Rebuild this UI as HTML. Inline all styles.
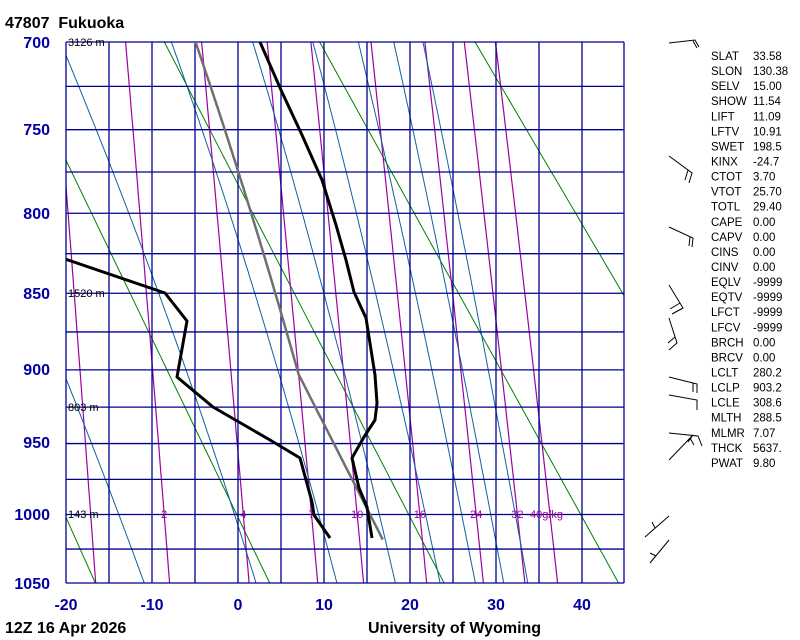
<!DOCTYPE html>
<html><head><meta charset="utf-8"><style>
html,body{margin:0;padding:0;background:#fff;}
svg{display:block;font-family:"Liberation Sans",sans-serif;}
</style></head><body>
<svg id="s" width="800" height="640" viewBox="0 0 800 640" xmlns="http://www.w3.org/2000/svg">
<defs><clipPath id="c"><rect x="66" y="42" width="558" height="541"/></clipPath></defs>
<rect width="800" height="640" fill="#fff"/>
<g id="bg" clip-path="url(#c)" fill="none"></g>
<g id="grid" stroke="#000090" stroke-width="1.3" fill="none"></g>
<g font-size="11" fill="#000">
<text x="68" y="46">3126 m</text>
<text x="68" y="297">1520 m</text>
<text x="68" y="411">803 m</text>
<text x="68" y="518">143 m</text>
</g>
<g id="mr" font-size="11" fill="#a000a0"></g>
<g id="snd" clip-path="url(#c)" fill="none" stroke-linejoin="round"></g>
<g font-size="16" font-weight="bold" fill="#0000a0" text-anchor="end">
<text x="50" y="48">700</text><text x="50" y="135">750</text><text x="50" y="219">800</text>
<text x="50" y="299">850</text><text x="50" y="375">900</text><text x="50" y="448">950</text>
<text x="50" y="520">1000</text><text x="50" y="589">1050</text>
</g>
<g font-size="16" font-weight="bold" fill="#0000a0" text-anchor="middle">
<text x="66" y="610">-20</text><text x="152" y="610">-10</text><text x="238" y="610">0</text>
<text x="324" y="610">10</text><text x="410" y="610">20</text><text x="496" y="610">30</text><text x="582" y="610">40</text>
</g>
<g font-size="16" font-weight="bold" fill="#000">
<text x="5" y="28">47807&#160;&#160;Fukuoka</text>
<text x="5" y="633">12Z 16 Apr 2026</text>
<text x="368" y="633">University of Wyoming</text>
</g>
<g id="tbl" font-size="11.5" fill="#000"></g>
<g stroke="#000" stroke-width="1" fill="none">
<path d="M669 43 L695 40 L699 47 M693 41 L697 48"/>
<path d="M669 156 L692 173 L689 183 M688 170 L685 180"/>
<path d="M669 227 L693 238 L692 247 M690 237 L689 246"/>
<path d="M669 285 L683 308 L672 314 M680 303 L670 309"/>
<path d="M669 318 L677 343 L669 350 M675 337 L668 343"/>
<path d="M669 377 L697 384 L697 393 M693 383 L693 392"/>
<path d="M669 395 L697 400 L697 410"/>
<path d="M669 433 L698 436 L702 446"/>
<path d="M669 460 L693 435 L688 442 M690 438 L694 445"/>
<path d="M645 537 L669 516 M655 528 L652 522"/>
<path d="M650 563 L669 540 M656 556 L650 553"/>
</g>
</svg>
<script>
(function(){
var NS="http://www.w3.org/2000/svg";
var k=0.286,P0=Math.pow(700,k),P1=Math.pow(1050,k);
function Y(p){return 42+(Math.pow(p,k)-P0)/(P1-P0)*541;}
function X(t){return 238+8.6*t;}
function el(g,tag,a){var e=document.createElementNS(NS,tag);for(var n in a)e.setAttribute(n,a[n]);document.getElementById(g).appendChild(e);return e;}
function pl(g,pts,col,w){el(g,"polyline",{points:pts.map(function(q){return q[0].toFixed(1)+","+q[1].toFixed(1)}).join(" "),stroke:col,"stroke-width":w,fill:"none"});}
for(var th=213;th<=413;th+=20){var pts=[];for(var p=700;p<=1050;p+=10){pts.push([X(th*Math.pow(p/1000,k)-273.15),Y(p)]);}pl("bg",pts,"#008000",1);}
function tdw(w,p){var e=w*p/(622+w);var l=Math.log(e/6.112);return 243.5*l/(17.67-l);}
var ws=[1,2,4,7,10,16,24,32,40];
ws.forEach(function(w){var pts=[];for(var p=700;p<=1050;p+=10)pts.push([X(tdw(w,p)),Y(p)]);pl("bg",pts,"#a000a0",1.2);});
function es(t){return 6.112*Math.exp(17.67*t/(t+243.5));}
function moist(T0c,p0,p1){var pts=[];var T=T0c+273.15,p=p0,dp=p1<p0?-1:1;pts.push([X(T-273.15),Y(p)]);
while((dp<0&&p>p1)||(dp>0&&p<p1)){var tc=T-273.15,e=es(tc),rs=0.622*e/(p-e);
var g=(287*T+2.5e6*rs)/(1005+2.5e6*2.5e6*rs*0.622/(287*T*T))/p;T+=g*dp;p+=dp;pts.push([X(T-273.15),Y(p)]);}return pts;}
[-24,-10.9,2.1,11.5,18.3,23.5,27.6,30.9,33.7].forEach(function(t){pl("bg",moist(t,1050,700),"#1060a0",1);});
for(var t=-20;t<=45;t+=5){var x=X(t);if(t==45)x=624;el("grid","line",{x1:x,y1:42,x2:x,y2:583});}
for(var p=700;p<=1050;p+=25){el("grid","line",{x1:66,y1:Y(p),x2:624,y2:Y(p)});}
ws.forEach(function(w){if(w==1)return;var x=X(tdw(w,1000));if(w==40){el("mr","text",{x:530,y:518}).textContent="40g/kg";}else{var t=el("mr","text",{x:x,y:518,"text-anchor":"middle"});t.textContent=w;}});
var pp=[];for(var p=1018;p>=903;p-=5)pp.push([X(288.5*Math.pow(p/1000,k)-273.15),Y(p)]);
pp=pp.concat(moist(7.05,903,700));pl("snd",pp,"#707070",2.5);
pl("snd",[[260,42],[281,90],[302,135],[322,180],[336,225],[346,260],[354,292],[366,318],[375,375],[377,403],[375,420],[364,437],[352,458],[359,488],[367,507],[372,538]],"#000",3);
pl("snd",[[65,259],[165,293],[187,321],[177,377],[213,407],[270,440],[300,458],[312,502],[314,515],[330,538]],"#000",3);
var rows=[["SLAT","33.58"],["SLON","130.38"],["SELV","15.00"],["SHOW","11.54"],["LIFT","11.09"],["LFTV","10.91"],["SWET","198.5"],["KINX","-24.7"],["CTOT","3.70"],["VTOT","25.70"],["TOTL","29.40"],["CAPE","0.00"],["CAPV","0.00"],["CINS","0.00"],["CINV","0.00"],["EQLV","-9999"],["EQTV","-9999"],["LFCT","-9999"],["LFCV","-9999"],["BRCH","0.00"],["BRCV","0.00"],["LCLT","280.2"],["LCLP","903.2"],["LCLE","308.6"],["MLTH","288.5"],["MLMR","7.07"],["THCK","5637."],["PWAT","9.80"]];
rows.forEach(function(r,i){var y=60+i*15.07;el("tbl","text",{x:711,y:y}).textContent=r[0];el("tbl","text",{x:753,y:y}).textContent=r[1];});
})();
</script>
</body></html>
